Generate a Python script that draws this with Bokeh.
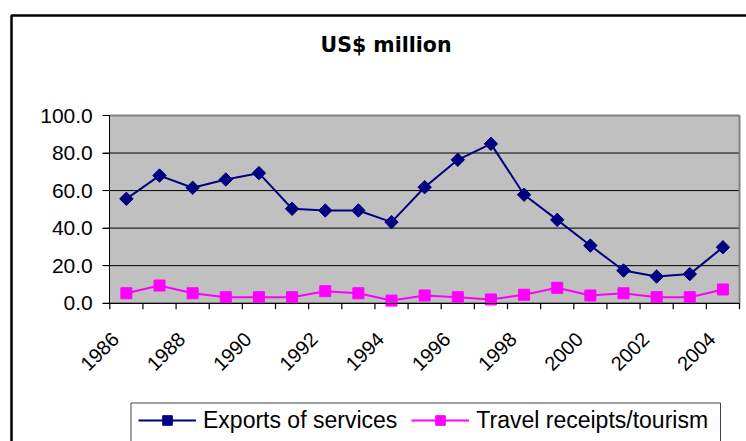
import math
from bokeh.plotting import figure
from bokeh.models import (FixedTicker, Legend, LegendItem, Label,
                          NumeralTickFormatter, Range1d, CustomJSTickFormatter)
from bokeh.core.properties import value
from bokeh.embed import file_html
from bokeh.resources import INLINE

# ---------------- data ----------------
years = list(range(1986, 2005))
exports = [55.6, 68.0, 61.5, 65.9, 69.3, 50.3, 49.4, 49.4, 43.2, 61.8,
           76.4, 84.9, 57.8, 44.4, 30.7, 17.4, 14.2, 15.5, 29.8]
tourism = [5.3, 9.4, 5.3, 3.2, 3.2, 3.2, 6.4, 5.3, 1.4, 4.1,
           3.2, 2.0, 4.5, 8.2, 4.1, 5.3, 3.2, 3.2, 7.3]
y_ticks = [0, 20, 40, 60, 80, 100]
x_label_years = [1986, 1988, 1990, 1992, 1994, 1996, 1998, 2000, 2002, 2004]
x_labels = [str(y) for y in x_label_years]
series_names = ["Exports of services", "Travel receipts/tourism"]
chart_title = "US$ million"

# ---------------- layout (pixels) ----------------
W, H = 746, 441
FRAME_L, FRAME_R, FRAME_T, FRAME_B = 109.3, 739.0, 115.0, 302.7
FONT = "Liberation Sans"
TITLE_FONT = "DejaVu Sans"

x_lo, x_hi = years[0] - 0.5, years[-1] + 0.5
y_lo, y_hi = y_ticks[0], y_ticks[-1]
px_x = (FRAME_R - FRAME_L) / (x_hi - x_lo)
px_y = (FRAME_B - FRAME_T) / (y_hi - y_lo)
x_start = x_lo - FRAME_L / px_x
y_end = y_hi + FRAME_T / px_y
xr = Range1d(x_start, x_lo + (W - FRAME_L) / px_x)
yr = Range1d(y_lo - (H - FRAME_B) / px_y, y_end)


def sx(px):  # page pixel -> data x
    return x_start + px / px_x


def sy(py):  # page pixel -> data y
    return y_end - py / px_y


p = figure(width=W, height=H, output_backend="svg", toolbar_location=None,
           x_range=xr, y_range=yr, min_border=0)
p.outline_line_color = None
p.background_fill_color = "white"
p.border_fill_color = "white"
p.xgrid.visible = False
p.ygrid.visible = False

# outer chart border (left and top edges visible)
p.line(x=[sx(11), sx(11), sx(W + 40)], y=[sy(H + 40), sy(15), sy(15)],
       line_color="black", line_width=2.5, level="underlay")
# legend box
p.line(x=[sx(130.5), sx(130.5), sx(720), sx(720)],
       y=[sy(H + 40), sy(402.5), sy(402.5), sy(H + 40)],
       line_color="#404040", line_width=1, level="underlay")

# plot area background and grid
p.quad(left=x_lo, right=x_hi, bottom=y_lo, top=y_hi,
       fill_color="#C0C0C0", line_color=None, level="underlay")
p.segment(x0=x_lo, x1=x_hi, y0=y_ticks, y1=y_ticks,
          line_color="black", line_width=1, level="underlay")
p.segment(x0=[x_lo, x_hi], x1=[x_hi, x_hi], y0=[y_hi, y_hi], y1=[y_hi, y_lo],
          line_color="#808080", line_width=2, level="underlay")

# x axis
boundaries = [y - 0.5 for y in years] + [x_hi]
xa = p.xaxis[0]
xa.fixed_location = y_lo
xa.bounds = (x_lo, x_hi)
xa.ticker = FixedTicker(ticks=boundaries, minor_ticks=[])
xa.formatter = CustomJSTickFormatter(code="return ''")
xa.major_tick_line_color = None
xa.minor_tick_line_color = None
xa.axis_line_color = "black"
# tick marks on category boundaries
p.segment(x0=boundaries, x1=boundaries, y0=y_lo, y1=y_lo - 6 / px_y,
          line_color="black", line_width=1.2)

# x tick labels (rotated 45 degrees, right end near category centre)
lab_dx = -11 / px_x
lab_dy = -32.5 / px_y
p.text(x=[yv + lab_dx for yv in x_label_years],
       y=[y_lo + lab_dy] * len(x_label_years), text=x_labels,
       angle=math.pi / 4, text_align="right", text_baseline="middle",
       text_font=value(FONT), text_font_size="20px", text_color="black")

# y axis
ya = p.yaxis[0]
ya.fixed_location = x_lo
ya.bounds = (y_lo, y_hi)
ya.ticker = FixedTicker(ticks=y_ticks, minor_ticks=[])
ya.formatter = NumeralTickFormatter(format="0.0")
ya.major_tick_out = 7
ya.major_tick_in = 0
ya.major_tick_line_color = "black"
ya.minor_tick_line_color = None
ya.axis_line_color = "black"
ya.major_label_text_font = FONT
ya.major_label_text_font_size = "21px"
ya.major_label_text_color = "black"
ya.major_label_standoff = 10
p.segment(x0=x_lo - 7 / px_x, x1=x_lo, y0=y_ticks, y1=y_ticks,
          line_color="black", line_width=1)

# series
l1 = p.line(years, exports, line_color="#000080", line_width=2)
s1 = p.scatter(years, exports, marker="square", angle=math.pi / 4, size=9.5,
               fill_color="#000080", line_color="#000080")
l2 = p.line(years, tourism, line_color="#FF00FF", line_width=2)
s2 = p.scatter(years, tourism, marker="square", size=11,
               fill_color="#FF00FF", line_color="#FF00FF")

# title
p.add_layout(Label(x=385.5, y=H - 44.5, x_units="screen", y_units="screen",
                   text=chart_title, text_align="center", text_baseline="middle",
                   text_font=TITLE_FONT, text_font_style="bold",
                   text_font_size="20.5px", text_color="black"))

legend = Legend(items=[LegendItem(label=series_names[0], renderers=[l1, s1]),
                       LegendItem(label=series_names[1], renderers=[l2, s2])],
                orientation="horizontal", location=(138, H - 421.5 - 12),
                glyph_width=58, glyph_height=24, label_height=24,
                label_standoff=7, spacing=14, padding=0, margin=0,
                border_line_color=None, background_fill_alpha=0,
                label_text_font=FONT, label_text_font_size="23px",
                label_text_color="black")
p.add_layout(legend)

open("out.html", "w").write(file_html(p, INLINE))
